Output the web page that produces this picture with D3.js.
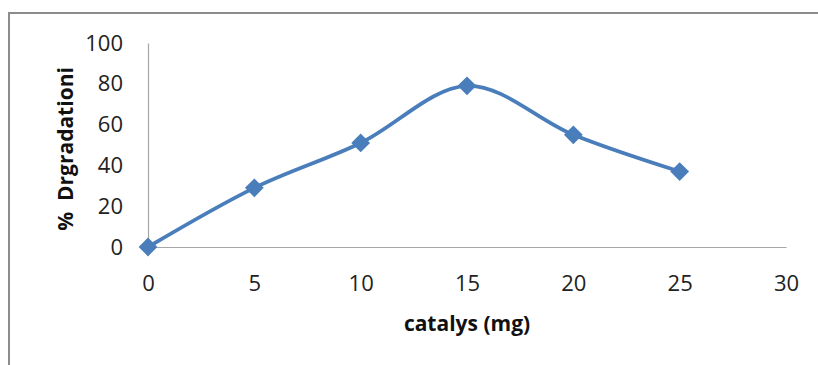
<!DOCTYPE html>
<html>
<head>
<meta charset="utf-8">
<script src="https://cdn.jsdelivr.net/npm/d3@7"></script>
<style>
  html, body { margin: 0; padding: 0; background: #fff; }
  svg { display: block; }
</style>
</head>
<body>
<svg id="chart" width="818" height="365"></svg>
<script>
// Catalyst dose (mg) vs. degradation (%)
const catalystMg = [0, 5, 10, 15, 20, 25];
const degradation = [0, 29, 51, 79, 55, 37];
const xTicks = [0, 5, 10, 15, 20, 25, 30];
const yTicks = [0, 20, 40, 60, 80, 100];

const svg = d3.select("#chart");
const font = "'Open Sans', 'Noto Sans', sans-serif";

// outer chart frame
svg.append("rect")
  .attr("x", 9).attr("y", 13)
  .attr("width", 830).attr("height", 380)
  .attr("fill", "none")
  .attr("stroke", "#8c8c8c")
  .attr("stroke-width", 2);

const x = d3.scaleLinear().domain([0, 30]).range([148, 786]);
const y = d3.scaleLinear().domain([0, 100]).range([247, 43]);

// x axis
const xAxis = svg.append("g")
  .attr("transform", `translate(0,${y(0)})`)
  .call(d3.axisBottom(x).tickValues(xTicks).tickSize(0).tickPadding(28));
xAxis.select(".domain").attr("stroke", "#a6a6a6").attr("stroke-width", 1.2);
xAxis.selectAll("text")
  .attr("font-family", font).attr("font-size", 22).attr("fill", "#222");

// y axis
const yAxis = svg.append("g")
  .attr("transform", `translate(${x(0)},0)`)
  .call(d3.axisLeft(y).tickValues(yTicks).tickSize(0).tickPadding(25));
yAxis.select(".domain").attr("stroke", "#a6a6a6").attr("stroke-width", 1.2);
yAxis.selectAll("text")
  .attr("font-family", font).attr("font-size", 22).attr("fill", "#222");

// axis titles
svg.append("text")
  .attr("x", 467).attr("y", 331)
  .attr("text-anchor", "middle")
  .attr("font-family", font).attr("font-weight", "bold").attr("font-size", 21)
  .attr("fill", "#111")
  .text("catalys (mg)");

svg.append("text")
  .attr("transform", "translate(73,149) rotate(-90)")
  .attr("text-anchor", "middle")
  .attr("font-family", font).attr("font-weight", "bold").attr("font-size", 21)
  .attr("fill", "#111")
  .style("white-space", "pre")
  .text("%  Drgradationi");

// smoothed series line
const pts = catalystMg.map((c, i) => [c, degradation[i]]);
const line = d3.line()
  .x(d => x(d[0])).y(d => y(d[1]))
  .curve(d3.curveCatmullRom.alpha(0));

svg.append("path")
  .datum(pts)
  .attr("d", line)
  .attr("fill", "none")
  .attr("stroke", "#4a7ebb")
  .attr("stroke-width", 3.8)
  .attr("stroke-linejoin", "round");

// diamond markers
const diamond = d3.symbol().type(d3.symbolDiamond2).size(225);
svg.append("g").selectAll("path")
  .data(pts)
  .join("path")
  .attr("transform", d => `translate(${x(d[0])},${y(d[1])})`)
  .attr("d", diamond)
  .attr("fill", "#4a7ebb");
</script>
</body>
</html>
